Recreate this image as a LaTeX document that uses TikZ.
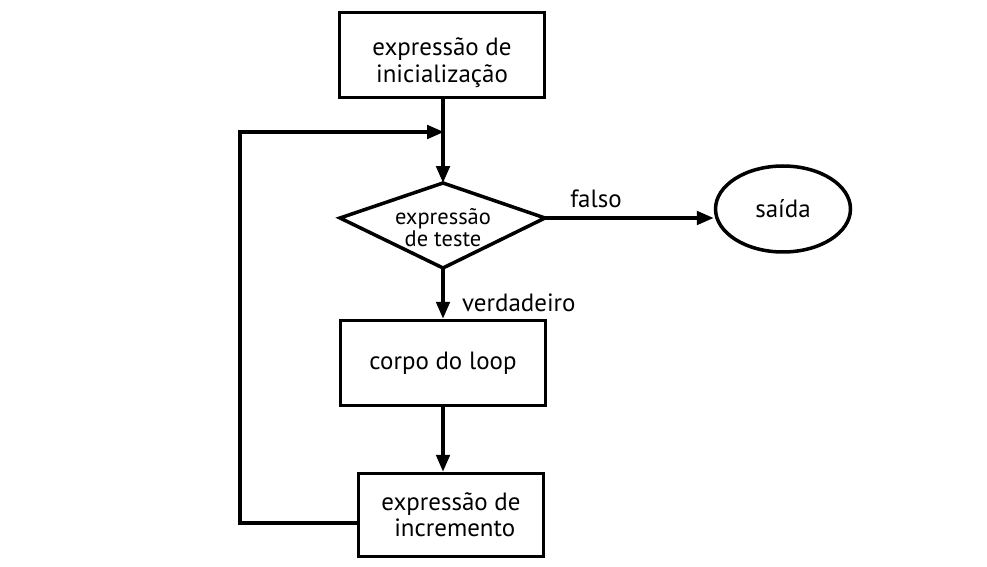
\documentclass[tikz,border=0pt]{standalone}
\usepackage{fontspec}
\setmainfont{PT Sans}
\usetikzlibrary{arrows.meta,shapes.geometric}

\begin{document}
\begin{tikzpicture}[x=0.02cm, y=-0.02cm,
		linha/.style={line width=2pt},
		seta/.style={linha, -{Triangle[length=0.34cm, width=0.27cm]}},
		caixa/.style={draw, linha, align=center, minimum width=4.1cm, minimum height=1.7cm,
			font=\fontsize{14.2}{15}\selectfont},
		rotulo/.style={font=\fontsize{14.2}{15}\selectfont}]
	%%%%% START %%%%%
	
	\useasboundingbox (0, 0) rectangle (987, 567);
	
	\node[caixa] (inicio) at (442, 55) {\raisebox{-5pt}[\height][\depth]{\begin{tabular}{@{}c@{}}expressão de\\inicialização\end{tabular}}};
	
	% losango do teste
	\coordinate (tN) at (443, 183);
	\coordinate (tE) at (545, 218);
	\coordinate (tS) at (443, 268);
	\coordinate (tW) at (340, 218);
	\draw[linha, line join=miter] (tN) -- (tE) -- (tS) -- (tW) -- cycle;
	\node[align=center, font=\fontsize{12.8}{12.5}\selectfont] (teste) at (443, 228) {expressão\\de teste};
	
	\node[draw, linha, ellipse, minimum width=2.7cm, minimum height=1.72cm,
		rotulo] (saida) at (783, 209) {saída};
	
	\node[caixa] (corpo) at (443, 363) {corpo do loop};
	\node[caixa, minimum width=3.7cm, minimum height=1.66cm] (incr) at (451, 515) {expressão de\\\hspace*{0.3em}incremento};
	
	\coordinate (juncao) at (444, 132);
	\coordinate (cantoB) at (240, 523);
	\coordinate (cantoA) at (240, 132);
	
	\draw[seta] (inicio.south -| tN) -- (tN);
	\draw[seta] (tE) -- (saida.west |- tE);
	\draw[seta] (tS) -- (corpo.north -| tS);
	\draw[seta] (corpo.south -| tS) -- (incr.north -| tS);
	\draw[seta, line join=miter] (incr.west |- cantoB) -- (cantoB) -- (cantoA) -- (juncao);
	
	\node[rotulo, anchor=base] (falso) at (596, 208) {falso};
	\node[rotulo, anchor=base west] (verdadeiro) at (456, 312) {verdadeiro};
	
	%%%%% END %%%%%
\end{tikzpicture}
\end{document}
